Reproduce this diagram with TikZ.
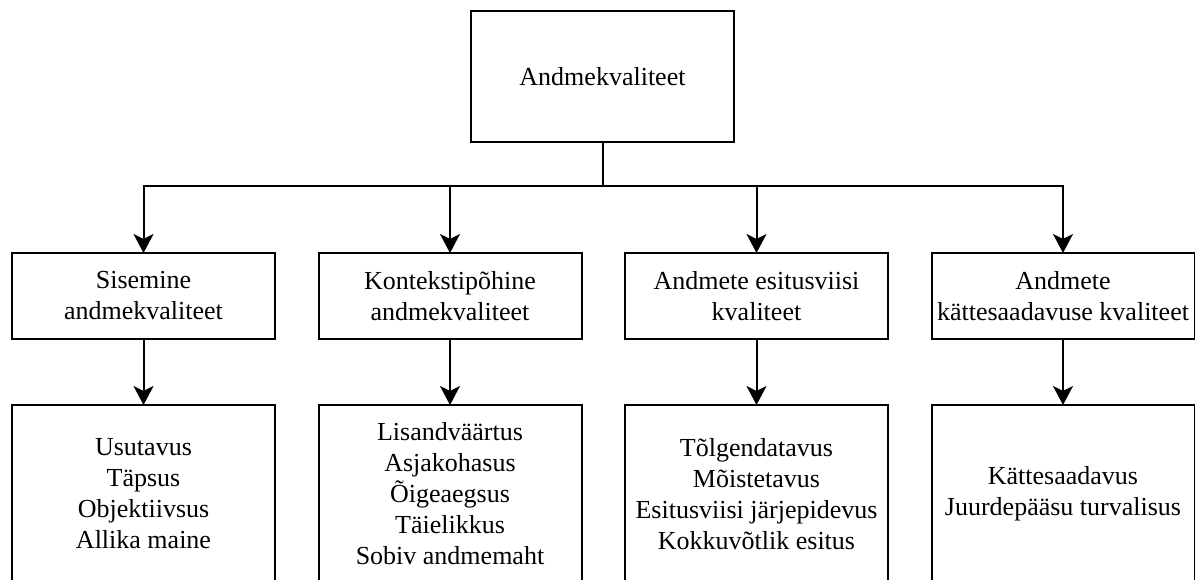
\documentclass[tikz,border=0pt]{standalone}
\usepackage{fontspec}
\setmainfont{Liberation Serif}
\usetikzlibrary{arrows.meta,positioning}

\tikzset{
        box/.style={draw, line width=2pt, outer sep=0pt, minimum width=263pt,
                align=center, font=\fontsize{26}{31}\selectfont},
        topbox/.style={box, minimum height=131pt},
        midbox/.style={box, minimum height=86pt},
        listbox/.style={box, minimum height=178pt},
        link/.style={line width=2pt, -{Stealth[length=19pt,width=20pt,inset=5pt]}}
}

\begin{document}
\begin{tikzpicture}[x=1pt, y=1pt, node distance=43.5pt]
        \useasboundingbox (0,0) rectangle (1195,-579);
        \clip (0,0) rectangle (1195,-579);

        \node[topbox] (quality) at (602.5,-76.5) {Andmekvaliteet};

        \node[midbox] (intrinsic) at (143.5,-296) {Sisemine\\andmekvaliteet};
        \node[midbox] (contextual) [right=of intrinsic] {Kontekstipõhine\\andmekvaliteet};
        \node[midbox] (representational) [right=of contextual] {Andmete esitusviisi\\kvaliteet};
        \node[midbox] (accessibility) [right=of representational] {Andmete\\kättesaadavuse kvaliteet};

        \node[listbox] (intrinsic list) [below=66pt of intrinsic]
                {Usutavus\\Täpsus\\Objektiivsus\\Allika maine};
        \node[listbox] (contextual list) [below=66pt of contextual]
                {Lisandväärtus\\Asjakohasus\\Õigeaegsus\\Täielikkus\\Sobiv andmemaht};
        \node[listbox] (representational list) [below=66pt of representational]
                {Tõlgendatavus\\Mõistetavus\\Esitusviisi järjepidevus\\Kokkuvõtlik esitus};
        \node[listbox] (accessibility list) [below=66pt of accessibility]
                {Kättesaadavus\\Juurdepääsu turvalisus};

        % tree
        \draw[line width=2pt] (quality.south) -- ++(0,-44) coordinate (split);
        \foreach \n in {intrinsic, contextual, representational, accessibility} {
                \draw[link] (split) -| (\n);
                \draw[link] (\n) -- (\n\space list);
        }
\end{tikzpicture}
\end{document}
